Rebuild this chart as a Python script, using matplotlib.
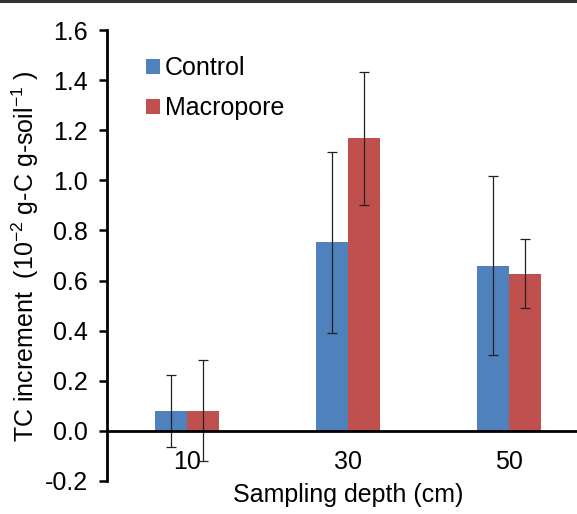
import matplotlib
matplotlib.use("Agg")
import matplotlib.pyplot as plt
import numpy as np
from matplotlib.patches import Patch
from matplotlib.lines import Line2D

plt.rcParams['font.family'] = ['Liberation Sans', 'DejaVu Sans']
plt.rcParams['mathtext.default'] = 'regular'

depths = ["10", "30", "50"]
control = [0.081, 0.752, 0.660]
control_err = [0.144, 0.362, 0.356]
macropore = [0.081, 1.168, 0.628]
macropore_err = [0.200, 0.266, 0.136]
yticks = [-0.2, 0.0, 0.2, 0.4, 0.6, 0.8, 1.0, 1.2, 1.4, 1.6]

blue = "#4F81BD"
red = "#C0504D"
fs = 18

W, H = 577, 514
fig = plt.figure(figsize=(W / 100, H / 100), dpi=100)
ax = fig.add_axes([107 / W, 1 - 481 / H, (577 - 107) / W, (481 - 30) / H])

x = np.arange(len(depths))
bw = 0.2
ekw = dict(elinewidth=0.9, capsize=3.5, capthick=0.9, ecolor="#222222")
ax.bar(x - bw / 2, control, bw, color=blue, yerr=control_err, error_kw=ekw, zorder=2)
ax.bar(x + bw / 2, macropore, bw, color=red, yerr=macropore_err, error_kw=ekw, zorder=2)

ax.set_xlim(-0.5, (577 - 189) / 160)
ax.set_ylim(-0.2, 1.6)
ax.set_yticks(yticks)
ax.set_yticklabels([f"{v:.1f}" for v in yticks])
ax.tick_params(axis="y", direction="out", length=6, width=1.8, pad=8, labelsize=fs)
ax.set_xticks(x)
ax.set_xticklabels(depths)
ax.tick_params(axis="x", length=0, pad=14, labelsize=fs)

for s in ["top", "right"]:
    ax.spines[s].set_visible(False)
ax.spines["left"].set_linewidth(2)
ax.spines["bottom"].set_position(("data", 0))
ax.spines["bottom"].set_linewidth(2)
ax.spines["bottom"].set_zorder(3)

fig.text(348 / W, 1 - 495 / H, "Sampling depth (cm)", ha="center", va="center", fontsize=fs)
fig.text(25 / W, 1 - 256 / H, "TC increment  (10$^{-2}$ g-C g-soil$^{-1}$ )",
         rotation=90, ha="center", va="center", fontsize=fs)

handles = [Patch(facecolor=blue), Patch(facecolor=red)]
ax.legend(handles, ["Control", "Macropore"], loc="upper left", frameon=False,
          bbox_to_anchor=(146 / W, 1 - 56 / H), bbox_transform=fig.transFigure,
          fontsize=fs, handlelength=0.55, handleheight=0.55, handletextpad=0.2,
          labelspacing=0.65, borderaxespad=0, borderpad=0)

fig.add_artist(Line2D([0, 1], [1 - 1 / H, 1 - 1 / H], transform=fig.transFigure,
                      color="#333333", lw=2.2))

fig.savefig("out.png", dpi=100)
